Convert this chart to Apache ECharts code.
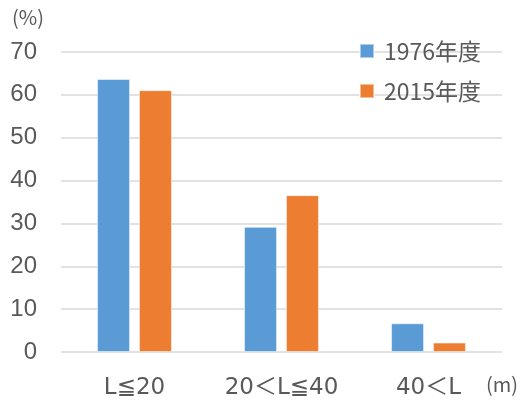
<!DOCTYPE html>
<html>
<head>
<meta charset="utf-8">
<script src="https://cdn.jsdelivr.net/npm/echarts@6/dist/echarts.min.js"></script>
<style>
  html, body { margin: 0; padding: 0; background: #fff; }
  #chart { width: 520px; height: 406px; }
</style>
</head>
<body>
<div id="chart"></div>
<script>
// Length classes (m) and the share of each class (%)
const categories = ['L≦20', '20＜L≦40', '40＜L'];
const seriesNames = ['1976年度', '2015年度'];
const values1976 = [63.7, 29.2, 6.7];
const values2015 = [61.1, 36.6, 2.2];
const yTicks = [0, 10, 20, 30, 40, 50, 60, 70];

const textColor = '#595959';
const cjkFont = '"Noto Sans CJK JP", "Noto Sans", sans-serif';
const latinFont = '"DejaVu Sans", "Noto Sans CJK JP", sans-serif';

const chart = echarts.init(document.getElementById('chart'), null, { renderer: 'canvas' });

chart.setOption({
  animation: false,
  backgroundColor: '#ffffff',
  textStyle: { fontFamily: cjkFont, color: textColor },
  grid: { left: 61, right: 18, top: 52, bottom: 54, containLabel: false },
  legend: {
    orient: 'vertical',
    left: 359,
    top: 37,
    padding: 0,
    icon: 'rect',
    itemWidth: 14,
    itemHeight: 14,
    itemGap: 12,
    data: seriesNames,
    textStyle: { fontFamily: cjkFont, fontSize: 23, color: textColor, lineHeight: 28, padding: [0, 0, 0, 5] }
  },
  xAxis: {
    type: 'category',
    data: categories,
    axisLine: { show: false },
    axisTick: { show: false },
    axisLabel: {
      interval: 0,
      hideOverlap: false,
      fontFamily: latinFont,
      fontSize: 23,
      color: textColor,
      margin: 25
    }
  },
  yAxis: {
    type: 'value',
    min: yTicks[0],
    max: yTicks[yTicks.length - 1],
    interval: 10,
    axisLine: { show: false },
    axisTick: { show: false },
    splitLine: { lineStyle: { color: '#d9d9d9', width: 1.5 } },
    axisLabel: { fontFamily: '"Liberation Sans", sans-serif', fontSize: 24, color: textColor, margin: 24 }
  },
  series: [
    {
      name: seriesNames[0],
      type: 'bar',
      data: values1976,
      barWidth: 33,
      barGap: '27%',
      itemStyle: { color: '#5b9bd5', borderColor: 'rgba(255,255,255,0.5)', borderWidth: 1 }
    },
    {
      name: seriesNames[1],
      type: 'bar',
      data: values2015,
      barWidth: 33,
      barGap: '27%',
      itemStyle: { color: '#ed7d31', borderColor: 'rgba(255,255,255,0.5)', borderWidth: 1 }
    }
  ],
  graphic: [
    {
      type: 'text',
      left: 12,
      top: 7,
      style: { text: '(%)', font: '20px ' + cjkFont, fill: textColor }
    },
    {
      type: 'text',
      left: 486,
      top: 374,
      style: { text: '(m)', font: '20px ' + cjkFont, fill: textColor }
    }
  ]
});
</script>
</body>
</html>
